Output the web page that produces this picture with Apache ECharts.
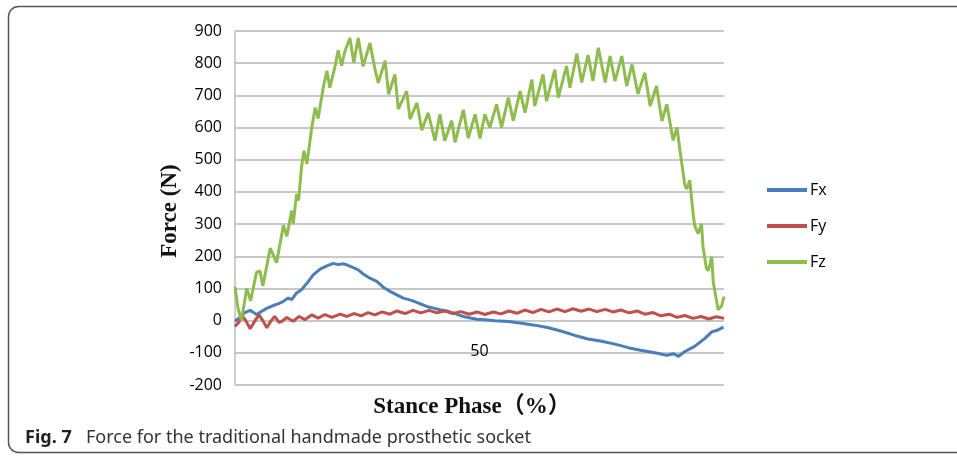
<!DOCTYPE html>
<html><head><meta charset="utf-8">
<script src="https://cdn.jsdelivr.net/npm/echarts@6/dist/echarts.min.js"></script>
<style>html,body{margin:0;padding:0;background:#fff}#c{width:957px;height:456px}</style>
</head><body><div id="c"></div>
<script>
// Stance phase (%) and force (N)
const fzPhase = [0,0.6,1.3,2.4,3.2,4.4,5.1,5.7,7.2,8.5,9.9,10.6,11.6,11.9,12.6,13.0,13.6,14.1,14.7,15.7,16.4,17.0,18.1,18.8,19.4,20.4,21.1,21.8,22.5,23.5,24.3,25.2,26.2,27.6,28.6,29.3,30.7,31.4,32.7,33.4,35.1,35.8,37.2,38.2,39.5,40.9,41.9,42.9,44.3,45.0,46.7,47.7,49.1,50.1,51.1,52.1,53.5,54.5,55.9,56.9,58.3,59.3,60.7,61.3,63.0,63.7,65.4,66.1,67.8,68.5,69.9,70.9,72.2,73.2,74.3,75.7,76.7,77.7,79.1,80.1,81.2,82.4,83.8,84.9,86.2,87.3,88.3,89.6,90.4,91.0,92.0,92.4,93.0,93.7,94.0,94.7,95.4,95.7,96.4,96.8,97.5,97.8,98.8,99.5,100];
const fzForce = [105,40,0,100,62,150,155,108,225,180,296,262,342,300,394,373,476,528,487,600,662,628,729,776,724,786,840,792,838,878,801,878,790,863,783,739,808,703,765,657,713,626,677,592,646,559,641,559,621,554,655,567,641,566,641,600,672,600,693,621,713,646,749,667,765,682,780,693,791,724,830,740,825,745,848,740,822,744,822,729,796,704,770,667,729,620,672,560,600,528,420,409,436,330,296,270,301,230,162,155,198,120,34,45,75];

const fxPhase = [0,1.0,2.0,3.1,4.4,5.8,6.7,7.8,8.8,9.9,10.9,11.6,12.6,13.6,14.7,16.0,17.4,18.8,20.1,21.1,22.1,23.1,24.2,25.2,26.2,27.6,29.0,30.3,31.7,33.1,34.4,36.1,37.8,39.2,40.6,41.9,43.6,45.3,46.7,48.1,49.5,51.1,53.2,55.9,58.6,61.3,64.1,66.8,69.5,72.2,75.0,77.7,80.4,83.2,85.9,88.3,89.7,90.7,92.0,94.0,96.1,97.5,98.6,99.9];
const fxForce = [-2,10,25,32,19,32,40,47,52,60,70,65,86,96,116,142,160,170,178,174,177,172,165,158,145,132,122,104,91,80,70,63,53,44,39,34,29,20,13,8,4,3,0,-3,-8,-14,-22,-33,-46,-57,-64,-73,-84,-93,-100,-108,-103,-111,-96,-80,-55,-35,-30,-20];

const fyPhase = [0,0.8,1.5,2.2,3.1,4.1,4.9,5.7,6.5,7.4,8.1,9.0,9.6,10.6,11.9,13.1,14.3,15.7,17.0,18.4,19.8,21.5,22.9,24.3,25.8,27.2,28.6,30.1,31.7,33.1,34.8,36.4,38.0,39.7,41.3,42.9,44.6,46.2,47.9,49.5,51.1,52.8,54.4,56.0,57.7,59.3,60.9,62.6,64.2,65.8,67.5,69.1,70.8,72.4,74.0,75.7,77.3,78.9,80.6,82.2,83.8,85.5,87.1,88.8,90.4,92.0,93.7,95.3,96.9,98.4,100];
const fyForce = [-18,-5,15,0,-25,0,18,0,-22,0,13,-5,-2,10,-2,13,3,18,8,19,10,20,13,22,15,25,18,27,20,30,22,32,24,32,24,30,22,28,20,27,19,27,21,30,23,33,25,35,27,36,28,37,29,36,28,35,27,33,24,30,20,25,15,20,10,16,7,13,5,12,7];

const yTicks = {min: -200, max: 900, step: 100};
const xLabelShown = 50;

function pairs(xs, ys) { return xs.map((x, i) => [x, ys[i]]); }

const chart = echarts.init(document.getElementById('c'), null, {renderer: 'canvas'});
chart.setOption({
  animation: false,
  backgroundColor: '#fff',
  grid: {left: 235, right: 233, top: 31, bottom: 71, containLabel: false},
  xAxis: {
    type: 'value', min: 0, max: 100, interval: 50,
    axisLine: {show: false, onZero: false},
    axisTick: {show: false},
    splitLine: {show: false},
    axisLabel: {margin: -42, fontFamily: 'Open Sans', fontSize: 16, color: '#000',
      formatter: v => (v === xLabelShown ? String(v) : '')}
  },
  yAxis: {
    type: 'value', min: yTicks.min, max: yTicks.max, interval: yTicks.step,
    axisLine: {show: true, lineStyle: {color: '#bdbdbd', width: 1.5}},
    axisTick: {show: false},
    splitLine: {show: true, lineStyle: {color: '#c8c8c8', width: 2}},
    axisLabel: {margin: 13, fontFamily: 'Open Sans', fontSize: 16, color: '#000'}
  },
  legend: {
    orient: 'vertical', left: 762, top: 176,
    itemWidth: 40, itemHeight: 4, itemGap: 18, icon: 'rect',
    textStyle: {fontFamily: 'Open Sans', fontSize: 16, lineHeight: 18, color: '#000', padding: [0,0,0,-2]},
    data: ['Fx', 'Fy', 'Fz']
  },
  series: [
    {name: 'Fx', type: 'line', data: pairs(fxPhase, fxForce), showSymbol: false, lineStyle: {width: 3, color: '#4a7ebb'}, itemStyle: {color: '#4a7ebb'}},
    {name: 'Fy', type: 'line', data: pairs(fyPhase, fyForce), showSymbol: false, lineStyle: {width: 3, color: '#c0504d'}, itemStyle: {color: '#c0504d'}},
    {name: 'Fz', type: 'line', data: pairs(fzPhase, fzForce), showSymbol: false, lineStyle: {width: 3, color: '#8fbc4f'}, itemStyle: {color: '#8fbc4f'}}
  ],
  graphic: [
    {type: 'rect', silent: true, shape: {x: 8.5, y: 6.5, width: 1000, height: 446, r: 10},
     style: {fill: 'none', stroke: '#555', lineWidth: 1.5}},
    {type: 'text', x: 170, y: 211, rotation: Math.PI / 2,
     style: {text: 'Force (N)', font: 'bold 23px "Liberation Serif"', fill: '#111', align: 'center', verticalAlign: 'middle'}},
    {type: 'text', x: 472, y: 407,
     style: {text: 'Stance Phase（%）', font: 'bold 23px "Liberation Serif", "Noto Sans CJK SC"', fill: '#111', align: 'center', verticalAlign: 'middle'}},
    {type: 'text', x: 25, y: 438,
     style: {text: 'Fig. 7', font: 'bold 18px "Noto Sans"', fill: '#222', align: 'left', verticalAlign: 'middle'}},
    {type: 'text', x: 86, y: 438,
     style: {text: 'Force for the traditional handmade prosthetic socket', font: '18px "Noto Sans"', fill: '#333', align: 'left', verticalAlign: 'middle'}}
  ]
});
</script></body></html>
